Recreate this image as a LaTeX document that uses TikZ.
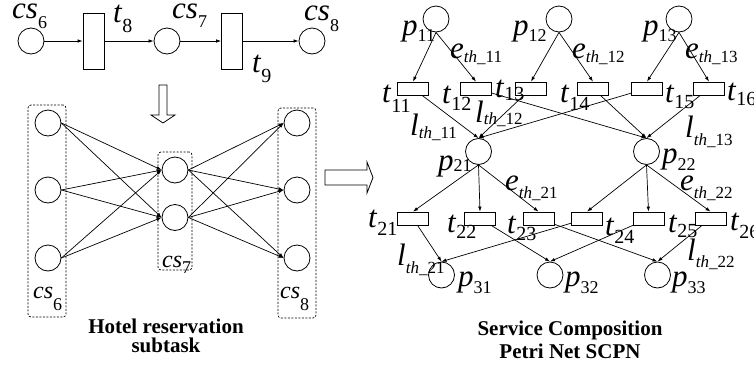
\documentclass[tikz,border=0pt]{standalone}
\usepackage{fontspec}
\setmainfont{Liberation Serif}
\usepackage{tikz}
\usetikzlibrary{arrows.meta, positioning}
\tikzstyle{place} = [circle, draw=black, line width=0.8pt, minimum size=26pt, inner sep=0pt]
\tikzstyle{tbar} = [rectangle, draw=black, line width=0.8pt, minimum width=21pt, minimum height=56pt, inner sep=0pt]
\tikzstyle{tbox} = [rectangle, draw=black, line width=0.8pt, minimum width=31pt, minimum height=13pt, inner sep=0pt]
\tikzstyle{grpbox} = [rectangle, rounded corners=3pt, draw=black, dash pattern=on 2pt off 1.5pt, line width=0.7pt]
\tikzstyle{arrow} = [line width=0.7pt, -{Latex[length=5pt, width=3.5pt]}]
\tikzstyle{lab} = [inner sep=0pt, anchor=base west, font=\fontsize{31}{31}\selectfont]
\tikzstyle{labs} = [lab, font=\fontsize{24}{24}\selectfont]
\tikzstyle{caption} = [inner sep=0pt, anchor=north, align=center]
\tikzstyle{hollow} = [draw=black, line width=0.8pt, fill=white]
% names with lowered indices: place, transition, arc threshold
\newcommand{\plab}[3][6]{\textit{#2}\raisebox{-#1pt}{\fontsize{18}{18}\selectfont #3}}
\newcommand{\tlab}[3][7]{\textit{#2}\raisebox{-#1pt}{\fontsize{20}{20}\selectfont #3}}
\newcommand{\thlab}[3][5]{\textit{#2}\raisebox{-#1pt}{\fontsize{17}{17}\selectfont\textit{th}\_#3}}
\begin{document}
\begin{tikzpicture}[x=1pt, y=-1pt]
    \useasboundingbox (0,0) rectangle (754,367);
    % subtask chain
    \node (cs6) [place] at (31,41) {};
    \node (t8) [tbar] at (93.5,41) {};
    \node (cs7) [place] at (167,41) {};
    \node (t9) [tbar] at (232,41) {};
    \node (cs8) [place] at (312,41) {};
    \draw[arrow] (cs6) -- (t8);
    \draw[arrow] (t8) -- (cs7);
    \draw[arrow] (cs7) -- (t9);
    \draw[arrow] (t9) -- (cs8);
    \node (lcs6) [lab] at (12,18) {\plab[10]{cs}{6}};
    \node (lt8) [lab] at (113,22) {\tlab[10]{t}{8}};
    \node (lcs7) [lab] at (172,18) {\plab[9]{cs}{7}};
    \node (lt9) [lab] at (252,72) {\tlab[10]{t}{9}};
    \node (lcs8) [lab] at (304,20) {\plab[11]{cs}{8}};
    \draw[hollow] (159,85) -- (167,85) -- (167,115) -- (175,115) -- (163,123) -- (151,115) -- (159,115) -- cycle;
    % candidate services
    \node (g6) [grpbox, minimum width=38pt, minimum height=212pt] at (47,211) {};
    \node (g7) [grpbox, minimum width=34pt, minimum height=118pt] at (175,211) {};
    \node (g8) [grpbox, minimum width=38pt, minimum height=210pt] at (297,213) {};
    \node (a1) [place] at (48,123) {};
    \node (a2) [place] at (48,190) {};
    \node (a3) [place] at (48,258) {};
    \node (b1) [place] at (175,170) {};
    \node (b2) [place] at (175,217.5) {};
    \node (c1) [place] at (297,123) {};
    \node (c2) [place] at (297,190) {};
    \node (c3) [place] at (297,258) {};
    \foreach \i in {1,2,3}
        \foreach \j in {1,2} {
            \draw[arrow] (a\i.east) -- (b\j.west);
            \draw[arrow] (b\j.east) -- (c\i.west);
        }
    \node (lg6) [labs] at (33,298) {\plab[12]{cs}{6}};
    \node (lg7) [labs] at (162,267) {\plab[6]{cs}{7}};
    \node (lg8) [labs] at (280,298) {\plab[12]{cs}{8}};
    \node (cap1) [caption, font=\bfseries\fontsize{21}{19}\selectfont] at (166,318.7) {Hotel reservation\\subtask};
    \draw[hollow] (325,170) -- (367,170) -- (367,162) -- (373,177.5) -- (367,193) -- (367,185) -- (325,185) -- cycle;
    % SCPN
    \node (p11) [place] at (436,19) {};
    \node (p12) [place] at (559,19) {};
    \node (p13) [place] at (679,19) {};
    \node (t11) [tbox] at (413,88.5) {};
    \node (t12) [tbox] at (476,88.5) {};
    \node (t13) [tbox] at (531,88.5) {};
    \node (t14) [tbox] at (593,88.5) {};
    \node (t15) [tbox] at (647,88.5) {};
    \node (t16) [tbox] at (709,88.5) {};
    \node (p21) [place] at (478.5,151.5) {};
    \node (p22) [place] at (646.5,151.5) {};
    \node (t21) [tbox] at (413,218.5) {};
    \node (t22) [tbox] at (480,218.5) {};
    \node (t23) [tbox] at (538.5,218.5) {};
    \node (t24) [tbox] at (587,218.5) {};
    \node (t25) [tbox] at (648.5,218.5) {};
    \node (t26) [tbox] at (710.5,218.5) {};
    \node (p31) [place] at (441.5,275) {};
    \node (p32) [place] at (550,275) {};
    \node (p33) [place] at (657.5,275) {};
    \foreach \p/\a/\b in {11/11/12, 12/13/14, 13/15/16} {
        \draw[arrow] (p\p.south) -- (t\a.north);
        \draw[arrow] (p\p.south) -- (t\b.north);
    }
    \foreach \t/\p in {11/21, 12/22, 13/21, 14/22, 15/21, 16/22}
        \draw[arrow] (t\t) -- (p\p.north);
    \foreach \t in {21,22,23}
        \draw[arrow] (p21.south) -- (t\t.north);
    \foreach \t in {24,25,26}
        \draw[arrow] (p22.south) -- (t\t.north);
    \foreach \t/\p in {21/31, 22/32, 23/33, 24/31, 25/32, 26/33}
        \draw[arrow] (t\t) -- (p\p.north);
    % labels
    \node (lp11) [lab] at (402,35) {\plab{p}{11}};
    \node (lp12) [lab] at (513,35) {\plab{p}{12}};
    \node (lp13) [lab] at (643,35) {\plab{p}{13}};
    \node (le11) [lab] at (450,58) {\thlab[4]{e}{11}};
    \node (le12) [lab] at (572,58) {\thlab[4]{e}{12}};
    \node (le13) [lab] at (685,58) {\thlab[4]{e}{13}};
    \node (lt11) [lab] at (382,102) {\tlab[10]{t}{11}};
    \node (lt12) [lab] at (442,103) {\tlab[7]{t}{12}};
    \node (lt13) [lab] at (495,97) {\tlab[3]{t}{13}};
    \node (lt14) [lab] at (560,102) {\tlab[8]{t}{14}};
    \node (lt15) [lab] at (665,102) {\tlab[6]{t}{15}};
    \node (lt16) [lab] at (727,100) {\tlab[5]{t}{16}};
    \node (ll11) [lab] at (410,135) {\thlab[3]{l}{11}};
    \node (ll12) [lab] at (475,122) {\thlab[2]{l}{12}};
    \node (ll13) [lab] at (685,137) {\thlab[8]{l}{13}};
    \node (lp21) [lab] at (438,170) {\plab[1]{p}{21}};
    \node (lp22) [lab] at (662,163) {\plab[7]{p}{22}};
    \node (le21) [lab] at (505,190) {\thlab[8]{e}{21}};
    \node (le22) [lab] at (680,190) {\thlab[8]{e}{22}};
    \node (lt21) [lab] at (368,227) {\tlab[8]{t}{21}};
    \node (lt22) [lab] at (447,232) {\tlab[6]{t}{22}};
    \node (lt23) [lab] at (507,233) {\tlab[7]{t}{23}};
    \node (lt24) [lab] at (605,235) {\tlab[8]{t}{24}};
    \node (lt25) [lab] at (668,232) {\tlab[5]{t}{25}};
    \node (lt26) [lab] at (730,230) {\tlab[8]{t}{26}};
    \node (ll21) [lab] at (397,265) {\thlab[8]{l}{21}};
    \node (ll22) [lab] at (687,260) {\thlab[7]{l}{22}};
    \node (lp31) [lab] at (458,286) {\plab[7]{p}{31}};
    \node (lp32) [lab] at (565,286) {\plab[7]{p}{32}};
    \node (lp33) [lab] at (672,286) {\plab[7]{p}{33}};
    \node (cap2) [caption, font=\bfseries\fontsize{21}{23}\selectfont] at (570,320.7) {Service Composition\\Petri Net SCPN};
\end{tikzpicture}
\end{document}
